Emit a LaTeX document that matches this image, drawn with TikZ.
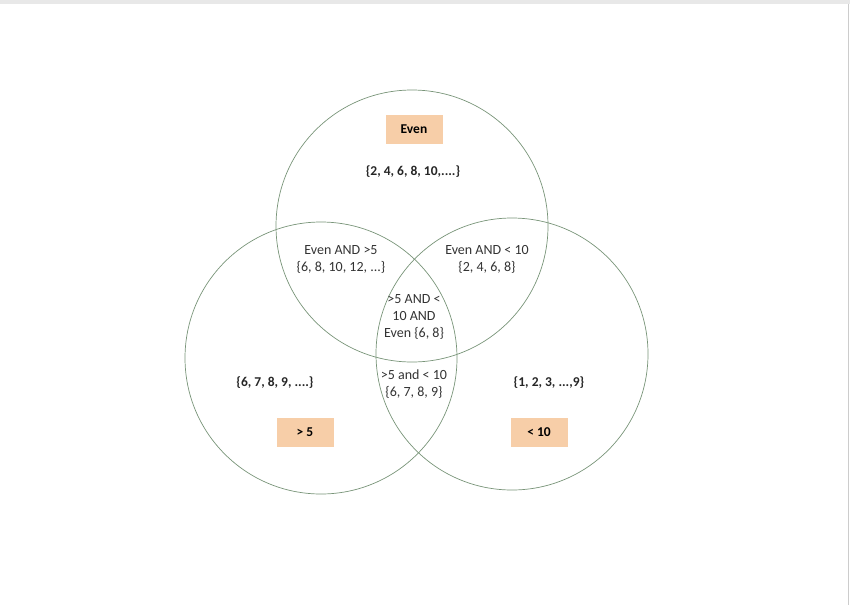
\documentclass[tikz,border=0pt]{standalone}
\usepackage{fontspec}
\setmainfont{Carlito}
\usetikzlibrary{arrows}
\definecolor{ringgreen}{RGB}{120,148,120}
\definecolor{tagpeach}{RGB}{247,206,168}

\begin{document}
\begin{tikzpicture}[x=1pt, y=-1pt, font=\fontsize{14}{17}\selectfont,
	ring/.style={draw=ringgreen, line width=0.7pt, circle, minimum size=272pt, inner sep=0pt},
	tag/.style={fill=tagpeach, minimum width=57pt, minimum height=29pt, font=\fontsize{13.5}{17}\selectfont\bfseries},
	setbold/.style={font=\fontsize{13.5}{17}\selectfont\bfseries, text=black!85},
	region/.style={align=center, text=black!80, inner sep=0pt}]
		\useasboundingbox (0,0) rectangle (850,605);
		\fill[color=black!9] (0,0) rectangle (850,4);
		\draw[color=black!20] (848,4) -- (848,605);

		\node[ring] (evenRing) at (412,226) {};
		\node[ring] (bigRing) at (321,358) {};
		\node[ring] (smallRing) at (512,354) {};

		\node[tag] (evenTag) at (414,129.5) {Even};
		\node[tag] (bigTag) at (305,432.5) {> 5};
		\node[tag] (smallTag) at (539,432.5) {< 10};

		\node[setbold] (evenSet) at (413,172) {\{2, 4, 6, 8, 10,....\}};
		\node[setbold] (bigSet) at (275,383) {\{6, 7, 8, 9, ....\}};
		\node[setbold] (smallSet) at (549,383) {\{1, 2, 3, ...,9\}};

		\node[region] (evenBig) at (341,259) {Even AND >5\\\{6, 8, 10, 12, ...\}};
		\node[region] (evenSmall) at (487,259) {Even AND < 10\\\{2, 4, 6, 8\}};
		\node[region] (allThree) at (414,317) {>5 AND <\\10 AND\\Even \{6, 8\}};
		\node[region] (bigSmall) at (414,384) {>5 and < 10\\\{6, 7, 8, 9\}};
	\end{tikzpicture}
\end{document}
